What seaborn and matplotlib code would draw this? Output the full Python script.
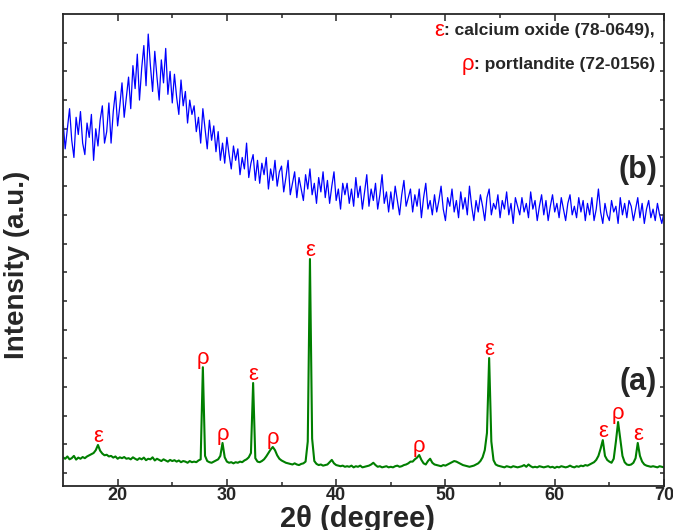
import numpy as np
import pandas as pd
import seaborn as sns
import matplotlib.pyplot as plt

# 2-theta scan, 0.2 degree step from 15 to 70
two_theta = np.round(np.arange(15.0, 70.0001, 0.2), 1)

# pattern (a): calcined sample
intensity_a = [
    55, 50, 58, 48, 52, 60, 47, 54, 50, 56,
    52, 58, 62, 66, 70, 80, 98, 78, 68, 62,
    64, 58, 60, 54, 58, 50, 55, 52, 56, 50,
    52, 48, 55, 50, 46, 52, 48, 54, 45, 50,
    48, 55, 44, 50, 46, 42, 48, 44, 40, 46,
    42, 45, 40, 44, 38, 42, 40, 36, 42, 38,
    40, 38, 44, 48, 369, 60, 42, 38, 36, 40,
    44, 48, 60, 105, 55, 40, 36, 38, 34, 38,
    36, 40, 38, 44, 48, 55, 70, 314, 52, 40,
    38, 42, 48, 58, 70, 82, 91, 80, 62, 50,
    44, 40, 36, 34, 32, 30, 34, 30, 28, 32,
    34, 40, 110, 746, 120, 42, 32, 28, 30, 26,
    28, 30, 38, 46, 34, 28, 26, 24, 26, 22,
    24, 22, 26, 20, 24, 22, 26, 20, 22, 24,
    26, 30, 36, 28, 22, 24, 20, 22, 24, 20,
    22, 20, 24, 26, 22, 24, 28, 30, 34, 40,
    40, 48, 54, 63, 46, 34, 30, 42, 50, 36,
    30, 28, 26, 24, 28, 26, 30, 34, 38, 42,
    40, 36, 32, 28, 26, 24, 22, 24, 26, 30,
    34, 42, 55, 80, 140, 401, 110, 45, 30, 26,
    24, 22, 20, 24, 22, 20, 24, 22, 20, 22,
    24, 28, 22, 30, 24, 20, 22, 20, 24, 22,
    20, 22, 24, 20, 22, 18, 22, 20, 24, 22,
    20, 22, 26, 22, 20, 24, 22, 26, 24, 28,
    26, 30, 34, 38, 46, 60, 85, 115, 60, 46,
    40, 36, 50, 110, 178, 120, 60, 38, 30, 28,
    30, 36, 52, 105, 60, 40, 30, 26, 24, 22,
    24, 22, 20, 24, 22, 20,
]

# pattern (b): amorphous sample
intensity_b = [
    1230, 1130, 1200, 1270, 1160, 1100, 1240, 1180, 1260, 1150,
    1110, 1220, 1170, 1250, 1090, 1200, 1140, 1230, 1280, 1150,
    1190, 1290, 1150, 1260, 1330, 1210, 1280, 1360, 1240, 1310,
    1380, 1270, 1420, 1340, 1460, 1300, 1410, 1490, 1350, 1530,
    1420, 1330, 1470, 1380, 1300, 1440, 1360, 1480, 1320, 1400,
    1290, 1390, 1310, 1250, 1370, 1280, 1330, 1220, 1300, 1250,
    1280, 1190, 1240, 1150, 1270, 1200, 1130, 1230, 1160, 1210,
    1120, 1190, 1090, 1150, 1080, 1170, 1110, 1060, 1140, 1090,
    1130, 1040, 1100, 1060, 1150, 1030, 1080, 1110, 1020, 1090,
    1010, 1080, 1040, 1100, 990, 1060, 1020, 1090, 1000, 1050,
    1070, 980, 1030, 1090, 970, 1010, 1050, 960, 1030, 990,
    950, 1040, 990, 1060, 970, 1010, 940, 1030, 980, 1050,
    960, 1020, 940, 1000, 1050, 950, 990, 920, 1010, 970,
    1010, 940, 990, 930, 1030, 960, 1000, 920, 980, 1040,
    930, 990, 950, 1010, 920, 970, 1040, 940, 980, 910,
    980, 920, 1000, 950, 900, 970, 1020, 930, 960, 990,
    910, 970, 930, 990, 890, 960, 1010, 920, 950, 900,
    970, 910, 950, 1000, 920, 880, 960, 930, 990, 910,
    950, 890, 980, 920, 960, 900, 1000, 930, 880, 950,
    910, 970, 930, 880, 960, 990, 900, 940, 920, 970,
    890, 950, 920, 980, 900, 940, 870, 960, 930, 900,
    960, 910, 940, 890, 980, 920, 950, 880, 930, 970,
    900, 950, 880, 930, 970, 910, 940, 890, 960, 920,
    880, 940, 970, 900, 930, 890, 960, 910, 950, 880,
    940, 900, 960, 880, 920, 990, 910, 870, 940, 900,
    880, 950, 910, 930, 870, 960, 900, 940, 890, 950,
    930, 880, 920, 960, 890, 940, 870, 920, 950, 890,
    920, 880, 940, 900, 870, 910,
]

# indexed reflections
peak_pos = [18.2, 27.8, 29.6, 32.4, 34.2, 37.6, 47.6, 54.0, 64.4, 65.8, 67.6]
peak_phase = ['ε', 'ρ', 'ρ', 'ε', 'ρ', 'ε', 'ρ', 'ε', 'ε', 'ρ', 'ε']

df_a = pd.DataFrame({'two_theta': two_theta, 'intensity': intensity_a})
df_b = pd.DataFrame({'two_theta': two_theta, 'intensity': intensity_b})

sns.set_style('ticks')
plt.rcParams['font.family'] = ['Liberation Sans', 'DejaVu Sans']

fig, ax = plt.subplots(figsize=(6.73, 5.3), dpi=100)
fig.subplots_adjust(left=0.0936, right=0.9866, bottom=0.083, top=0.9736)

sns.lineplot(data=df_b, x='two_theta', y='intensity', color='#0000ff',
             linewidth=0.9, estimator=None, sort=False, ax=ax)
sns.lineplot(data=df_a, x='two_theta', y='intensity', color='#007f00',
             linewidth=1.5, estimator=None, sort=False, ax=ax)

lookup = dict(zip(df_a['two_theta'], df_a['intensity']))
for pos, ph in zip(peak_pos, peak_phase):
    ax.annotate(ph, xy=(pos, lookup[pos]), xytext=(0, 2), textcoords='offset points',
                ha='center', va='baseline', color='#ff0000', fontsize=16)

ax.text(69.35, 317, '(a)', ha='right', va='center', fontsize=22, fontweight='bold')
ax.text(69.35, 1056, '(b)', ha='right', va='center', fontsize=22, fontweight='bold')

# phase key in the top right corner
for yfrac, sym, desc in [(0.966, 'ε', ': calcium oxide (78-0649),'),
                         (0.893, 'ρ', ': portlandite (72-0156)')]:
    t = ax.text(0.985, yfrac, desc, transform=ax.transAxes, ha='right', va='center',
                fontsize=12.5, fontweight='bold')
    ax.annotate(sym, xy=(0, 0.5), xycoords=t, ha='right', va='center',
                color='#ff0000', fontsize=16)

ax.set_xlim(15, 70)
ax.set_ylim(-45, 1600)
ax.set_xticks([20, 30, 40, 50, 60, 70])
ax.set_xticks([25, 35, 45, 55, 65], minor=True)
ax.set_yticks(range(0, 1501, 100))
ax.set_yticklabels([])
ax.tick_params(which='both', direction='in', top=True, right=True, width=1.1)
ax.tick_params(axis='x', which='major', length=5, labelsize=13, pad=1)
ax.tick_params(axis='x', which='minor', length=3)
ax.tick_params(axis='y', length=3)
for lab in ax.get_xticklabels():
    lab.set_fontweight('bold')
for sp in ax.spines.values():
    sp.set_linewidth(1.3)

ax.set_xlabel('2θ (degree)', fontsize=21, fontweight='bold')
ax.xaxis.set_label_coords(0.49, -0.041)
ax.set_ylabel('Intensity (a.u.)', fontsize=20, fontweight='bold')
ax.yaxis.set_label_coords(-0.055, 0.468)

plt.savefig('out.png', dpi=100)
plt.close()
